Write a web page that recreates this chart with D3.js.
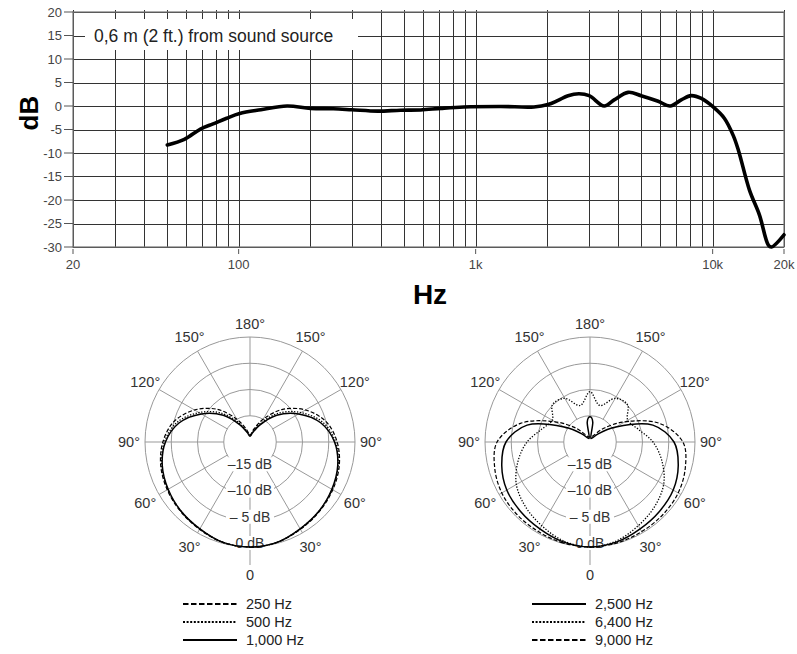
<!DOCTYPE html>
<html>
<head>
<meta charset="utf-8">
<script src="https://cdn.jsdelivr.net/npm/d3@7"></script>
<style>
  body { margin: 0; background: #fff; }
  svg { display: block; font-family: "Liberation Sans", Arial, sans-serif; }
</style>
</head>
<body>
<div id="chart"></div>
<script>
// frequency response
const freqHz = [50, 59, 69, 78, 89, 101, 124, 160, 201, 251, 300, 386, 482, 586, 713, 891,
  1278, 1762, 2018, 2227, 2454, 2730, 3012, 3486, 3840, 4400, 4990, 5890, 6620, 7370,
  8120, 8960, 10160, 11200, 12220, 12840, 14300, 15760, 17180, 17700, 20000];
const responseDb = [-8.3, -7.1, -4.9, -3.8, -2.6, -1.6, -0.8, 0, -0.5, -0.6, -0.8, -1.1, -0.9, -0.85, -0.5, -0.2,
  -0.1, -0.2, 0.3, 1.2, 2.2, 2.6, 2.2, 0, 1.3, 2.9, 2.2, 1.0, 0, 1.3,
  2.2, 1.6, -0.4, -2.6, -6.3, -9.4, -17.9, -23.2, -29.6, -30, -27.4];
const freqTicks = [20, 100, 1000, 10000, 20000];
const freqTickLabels = ["20", "100", "1k", "10k", "20k"];
const dbTicks = [20, 15, 10, 5, 0, -5, -10, -15, -20, -25, -30];

// polar patterns (dB at angle, mirrored for the other side)
const polarAngles = [0, 15, 30, 45, 60, 75, 90, 105, 120, 135, 150, 165, 180];
const hz250 = [0, -0.2, -0.8, -1.3, -1.8, -2.4, -3.4, -5.0, -7.8, -11.2, -15.0, -17.6, -18.7];
const hz500 = [0, -0.2, -0.9, -1.4, -1.9, -2.6, -3.7, -5.6, -8.8, -12.2, -15.8, -18.0, -18.8];
const hz1000 = [0, -0.2, -0.9, -1.4, -2.0, -2.7, -3.9, -6.0, -9.3, -12.8, -16.3, -18.2, -18.9];
const hz2500Angles = [0, 15, 30, 45, 60, 75, 90, 105, 120, 135, 150, 165, 172, 176, 180];
const hz2500 = [0, -0.3, -0.9, -1.3, -1.7, -2.6, -4.0, -7.6, -14.3, -17.8, -19.1, -19.3, -16.2, -15.4, -15.2];
const hz6400 = [0, -0.5, -1.6, -2.6, -3.8, -5.8, -8.0, -10.5, -11.7, -9.9, -10.4, -12.8, -10.4];
const hz9000 = [0, -0.1, -0.3, -0.4, -0.6, -1.2, -2.3, -6.3, -12.3, -16.3, -18.5, -19.0, -19.0];
const polarRings = [0, -5, -10, -15];
const ringLabels = ["0 dB", "\u2013 5 dB", "\u201310 dB", "\u201315 dB"];
const spokeAngles = [0, 30, 60, 90, 120, 150, 180, 210, 240, 270, 300, 330];
const spokeLabels = ["0", "30°", "60°", "90°", "120°", "150°", "180°", "150°", "120°", "90°", "60°", "30°"];
const legendLeft = ["250 Hz", "500 Hz", "1,000 Hz"];
const legendRight = ["2,500 Hz", "6,400 Hz", "9,000 Hz"];

const width = 797, height = 654;
const svg = d3.select("#chart").append("svg").attr("width", width).attr("height", height);
svg.append("rect").attr("width", width).attr("height", height).attr("fill", "#fff");

////////////// frequency response //////////////
const margin = { left: 73, right: 13, top: 12, bottom: 407 };
const xScale = d3.scaleLog().domain([20, 20000]).range([margin.left, width - margin.right]);
const yScale = d3.scaleLinear().domain([-30, 20]).range([height - margin.bottom, margin.top]);

const grid = svg.append("g").attr("stroke", "#333").attr("stroke-width", 1).attr("shape-rendering", "crispEdges");
grid.selectAll(".v").data(xScale.ticks()).join("line")
  .attr("x1", d => Math.round(xScale(d)) + 0.5).attr("x2", d => Math.round(xScale(d)) + 0.5)
  .attr("y1", yScale(20) - 2).attr("y2", yScale(-30));
grid.selectAll(".h").data(dbTicks).join("line")
  .attr("x1", xScale(20)).attr("x2", xScale(20000))
  .attr("y1", d => Math.round(yScale(d)) + 0.5).attr("y2", d => Math.round(yScale(d)) + 0.5);
// frame
svg.append("rect")
  .attr("x", xScale(20)).attr("y", yScale(20))
  .attr("width", xScale(20000) - xScale(20)).attr("height", yScale(-30) - yScale(20))
  .attr("fill", "none").attr("stroke", "#777").attr("stroke-width", 1.2);

// y axis ticks + labels
const yAxis = svg.append("g").attr("transform", `translate(${margin.left},0)`);
yAxis.selectAll("line").data(dbTicks).join("line")
  .attr("x1", -9).attr("x2", 0)
  .attr("y1", d => yScale(d)).attr("y2", d => yScale(d))
  .attr("stroke", "#555");
yAxis.selectAll("text").data(dbTicks).join("text")
  .attr("x", -11).attr("y", d => yScale(d)).attr("dy", "0.35em")
  .attr("text-anchor", "end").attr("font-size", 13).attr("fill", "#444")
  .text(d => d);

// x axis ticks + labels
const xAxis = svg.append("g").attr("transform", `translate(0,${yScale(-30)})`);
xAxis.selectAll("line").data(freqTicks).join("line")
  .attr("x1", d => xScale(d)).attr("x2", d => xScale(d))
  .attr("y1", 2).attr("y2", 7).attr("stroke", "#555");
xAxis.selectAll("text").data(freqTicks).join("text")
  .attr("x", d => xScale(d)).attr("y", 17).attr("dy", "0.35em")
  .attr("text-anchor", "middle").attr("font-size", 13).attr("fill", "#444")
  .text((d, i) => freqTickLabels[i]);

// caption box over the 15 dB line
svg.append("rect").attr("x", 85).attr("y", 19).attr("width", 273).attr("height", 31).attr("fill", "#fff");
svg.append("text").attr("x", 94).attr("y", yScale(15)).attr("dy", "0.35em")
  .attr("font-size", 17.5).attr("fill", "#222")
  .text("0,6 m (2 ft.) from sound source");

svg.append("text")
  .attr("transform", `translate(38,${yScale(-1.5)}) rotate(-90)`)
  .attr("text-anchor", "middle").attr("font-size", 26).attr("font-weight", "bold")
  .text("dB");
svg.append("text").attr("x", 430).attr("y", 304)
  .attr("text-anchor", "middle").attr("font-size", 28).attr("font-weight", "bold")
  .text("Hz");

const line = d3.line()
  .x((d, i) => xScale(freqHz[i]))
  .y(d => yScale(d))
  .curve(d3.curveCatmullRom.alpha(0.5));
svg.append("path")
  .attr("fill", "none").attr("stroke", "#000").attr("stroke-width", 3.6)
  .attr("stroke-linejoin", "round").attr("stroke-linecap", "round")
  .attr("d", line(responseDb));

////////////// polar patterns //////////////
const R = 105;
const rScale = d3.scaleLinear().domain([-20, 0]).range([0, R]);
const toXY = (deg, r) => {
  const a = deg * Math.PI / 180;
  return [-r * Math.sin(a), r * Math.cos(a)];
};
const closeLoop = (angles, values) => {
  const pts = angles.map((a, i) => [a, values[i]]);
  for (let i = angles.length - 2; i > 0; i--) pts.push([360 - angles[i], values[i]]);
  return pts;
};
const radial = d3.lineRadial()
  .angle(d => (180 + d[0]) * Math.PI / 180)
  .radius(d => rScale(d[1]))
  .curve(d3.curveCatmullRomClosed.alpha(0.5));

const styles = {
  dashed: { dash: "4,2", width: 1.2 },
  dotted: { dash: "1.3,1.6", width: 1.3 },
  solid: { dash: null, width: 1.5 },
};

const drawPolar = (cx, cy, series) => {
  const g = svg.append("g").attr("transform", `translate(${cx},${cy})`);
  const rInner = rScale(-15);
  g.selectAll("circle").data(polarRings).join("circle")
    .attr("r", d => rScale(d)).attr("fill", "none").attr("stroke", "#999").attr("stroke-width", 1);
  g.selectAll(".spoke").data(spokeAngles).join("line")
    .attr("x1", d => toXY(d, rInner)[0]).attr("y1", d => toXY(d, rInner)[1])
    .attr("x2", d => toXY(d, d === 0 ? R + 18 : R)[0]).attr("y2", d => toXY(d, d === 0 ? R + 18 : R)[1])
    .attr("stroke", "#999").attr("stroke-width", 1);
  g.selectAll(".alab").data(spokeAngles).join("text")
    .attr("x", d => toXY(d, d === 0 ? R + 28 : R + 16)[0])
    .attr("y", d => toXY(d, d === 0 ? R + 28 : d === 180 ? R + 13 : R + 16)[1])
    .attr("dy", "0.35em").attr("text-anchor", "middle")
    .attr("font-size", 14.5).attr("fill", "#333")
    .text((d, i) => spokeLabels[i]);
  // ring labels with white background
  const lab = g.selectAll(".rlab").data(polarRings).join("g")
    .attr("transform", d => `translate(0,${rScale(d) - 4})`);
  lab.append("rect").attr("x", (d, i) => i === 0 ? -21 : -24).attr("y", -7)
    .attr("width", (d, i) => i === 0 ? 42 : 48).attr("height", 14).attr("fill", "#fff");
  lab.append("text").attr("dy", "0.35em").attr("text-anchor", "middle")
    .attr("font-size", 14).attr("fill", "#333")
    .text((d, i) => ringLabels[i]);
  series.forEach(s => {
    g.append("path")
      .attr("fill", "none").attr("stroke", "#000")
      .attr("stroke-width", styles[s.style].width)
      .attr("stroke-dasharray", styles[s.style].dash)
      .attr("d", radial(closeLoop(s.angles, s.values)));
  });
};

drawPolar(250, 442, [
  { angles: polarAngles, values: hz250, style: "dashed" },
  { angles: polarAngles, values: hz500, style: "dotted" },
  { angles: polarAngles, values: hz1000, style: "solid" },
]);
drawPolar(590, 442, [
  { angles: hz2500Angles, values: hz2500, style: "solid" },
  { angles: polarAngles, values: hz6400, style: "dotted" },
  { angles: polarAngles, values: hz9000, style: "dashed" },
]);

////////////// legends //////////////
const legendStyles = [
  { dash: "5.5,2.5" }, { dash: "2,1.6" }, { dash: null },
];
const drawLegend = (x, labels, order) => {
  const g = svg.append("g").attr("transform", `translate(${x},604)`);
  labels.forEach((label, i) => {
    const row = g.append("g").attr("transform", `translate(0,${i * 18})`);
    row.append("line").attr("x1", 0).attr("x2", 54).attr("y1", 0).attr("y2", 0)
      .attr("stroke", "#000").attr("stroke-width", 2)
      .attr("stroke-dasharray", legendStyles[order[i]].dash);
    row.append("text").attr("x", 63).attr("dy", "0.35em")
      .attr("font-size", 14.5).attr("fill", "#222").text(label);
  });
};
drawLegend(183, legendLeft, [0, 1, 2]);
drawLegend(532, legendRight, [2, 1, 0]);
</script>
</body>
</html>
